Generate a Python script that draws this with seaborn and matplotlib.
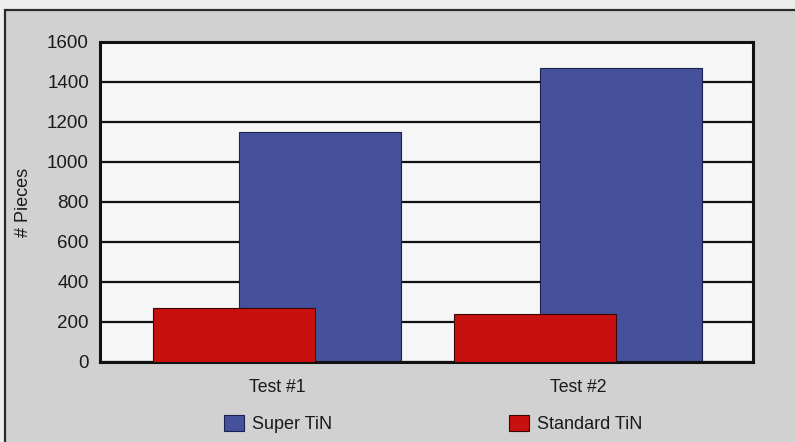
import matplotlib
matplotlib.use("Agg")
import matplotlib.pyplot as plt
import seaborn as sns
import pandas as pd
from matplotlib.patches import Rectangle, Patch

categories = ["Test #1", "Test #2"]
super_tin = [1150, 1470]
standard_tin = [270, 240]
series_names = ["Super TiN", "Standard TiN"]
yticks = [0, 200, 400, 600, 800, 1000, 1200, 1400, 1600]

blue = "#45519a"
red = "#c8100e"
panel = "#d0d1d0"

sns.set_theme(style="white")
plt.rcParams["font.family"] = ["Liberation Sans", "DejaVu Sans"]

fig = plt.figure(figsize=(7.95, 4.42), dpi=100)
fig.patch.set_facecolor("#ededed")
fig.patches.append(Rectangle((5 / 795, -0.05), 1.0, 1 - 10 / 442 + 0.05,
                             transform=fig.transFigure, facecolor=panel,
                             edgecolor="#2a2a2a", linewidth=1.6, zorder=-10))

ax = fig.add_axes([100 / 795, 80 / 442, 653 / 795, 320 / 442])
ax.set_zorder(5)
ax.set_facecolor("#f6f6f6")

idx = list(range(len(categories)))
offset = 0.143
df_super = pd.DataFrame({"pos": [i + offset for i in idx], "val": super_tin})
df_std = pd.DataFrame({"pos": [i - offset for i in idx], "val": standard_tin})

sns.barplot(data=df_super, x="pos", y="val", native_scale=True, width=0.54,
            color=blue, saturation=1, errorbar=None, edgecolor="#1c2050",
            linewidth=0.8, ax=ax, zorder=2)
sns.barplot(data=df_std, x="pos", y="val", native_scale=True, width=0.54,
            color=red, saturation=1, errorbar=None, edgecolor="#3a0606",
            linewidth=0.8, ax=ax, zorder=3)

ax.set_xlim(-0.588, 1.581)
ax.set_ylim(0, 1600)
ax.set_yticks(yticks)
ax.set_yticklabels([str(t) for t in yticks], fontsize=13.5, color="#1a1a1a")
ax.set_xticks(idx)
ax.set_xticklabels(categories, fontsize=12.7, color="#1a1a1a")
ax.tick_params(axis="both", length=0)
ax.tick_params(axis="y", pad=8)
ax.tick_params(axis="x", pad=12)
ax.set_xlabel("")
ax.set_ylabel("# Pieces", fontsize=13, color="#1a1a1a", labelpad=11)

ax.set_axisbelow(True)
ax.yaxis.grid(True, color="#111111", linewidth=1.6)
ax.xaxis.grid(False)
for s in ax.spines.values():
    s.set_visible(True)
    s.set_color("#111111")
    s.set_linewidth(2.2)

handles = [Patch(facecolor=blue, edgecolor="#1c2050", linewidth=0.8),
           Patch(facecolor=red, edgecolor="#3a0606", linewidth=0.8)]
fig.legend(handles, series_names, loc="center", bbox_to_anchor=(0.545, 0.041),
           ncol=2, frameon=False, fontsize=13, handlelength=1.1,
           handleheight=1.0, handletextpad=0.45, columnspacing=9.8,
           labelcolor="#1a1a1a")

fig.savefig("out.png", dpi=100, facecolor=fig.get_facecolor())
